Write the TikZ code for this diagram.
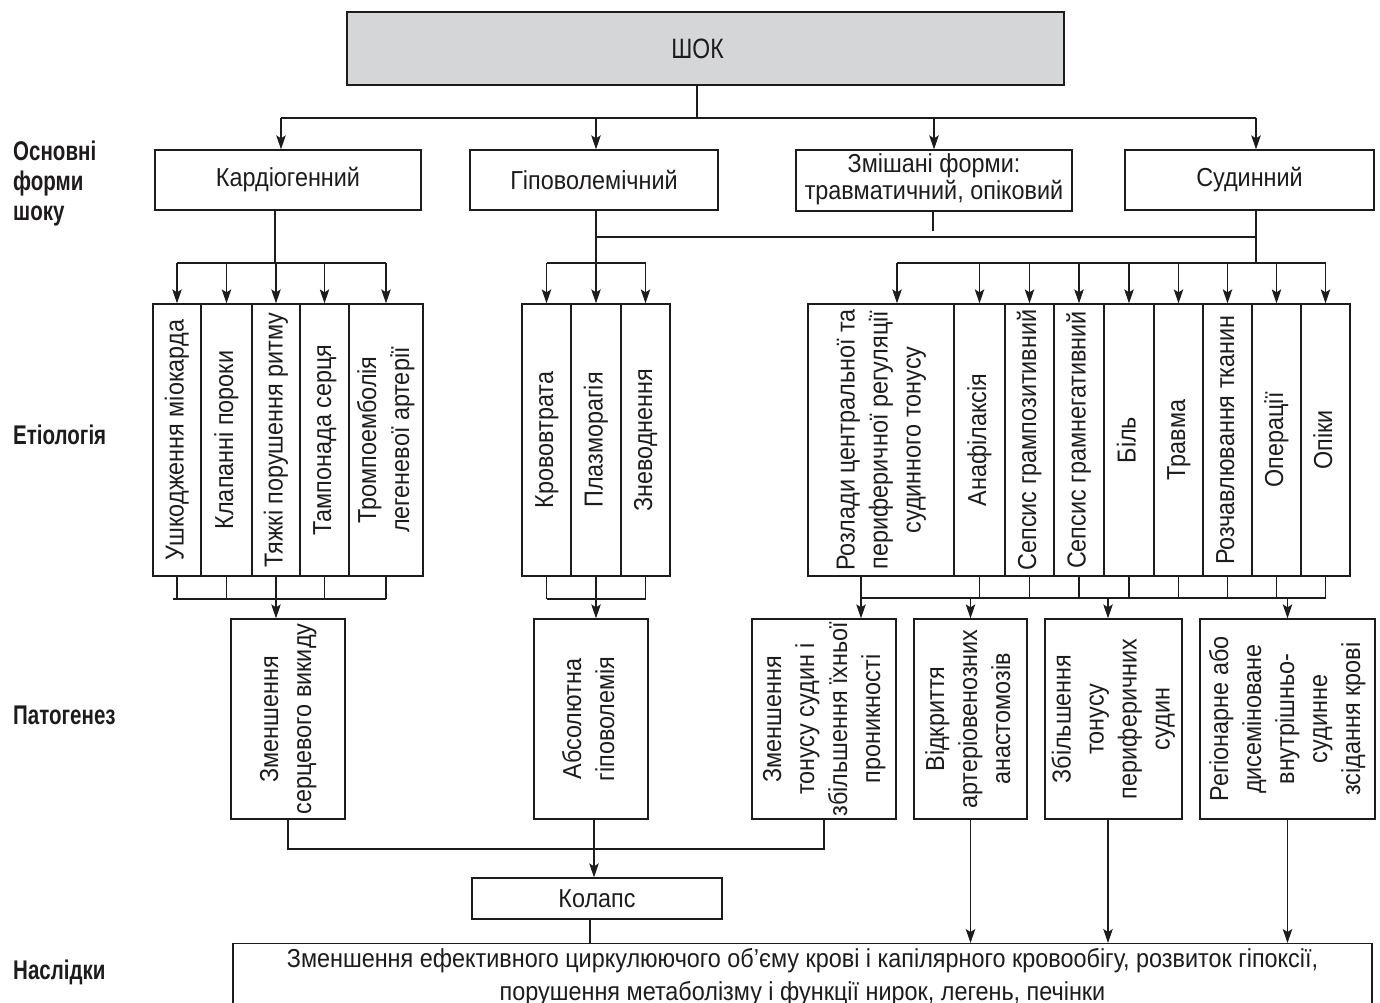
\documentclass[tikz,border=0pt]{standalone}
\usepackage{fontspec}
\usepackage{graphicx}
\setmainfont{Liberation Sans}[FakeStretch=0.9]
\newfontfamily\headfont{Liberation Sans}[FakeStretch=0.82]
\newfontfamily\sidefont{Liberation Sans}[FakeStretch=0.76]
\usetikzlibrary{arrows.meta}
\definecolor{ink}{HTML}{1E1B1C}
\definecolor{shockgray}{HTML}{D5D6D8}
% rotated, centred multi-line text for the tall boxes
\newcommand\vtext[1]{\rotatebox{90}{\begin{tabular}{@{}c@{}}#1\end{tabular}}}

\begin{document}
\begin{tikzpicture}[x=1pt, y=-1pt,
  font=\fontsize{26}{33}\selectfont, text=ink,
  box/.style={draw=ink, line width=1.3pt, rectangle, inner sep=0pt, text=ink},
  ln/.style={draw=ink, line width=1.2pt},
  arr/.style={ln, -{Stealth[length=14pt, width=9.5pt, inset=3pt]}},
  side/.style={font=\sidefont\bfseries\fontsize{27}{30}\selectfont, align=left, inner sep=0pt},
  ebox/.style={box, minimum height=272},
  pbox/.style={box, minimum height=200}]

\useasboundingbox (0,0) rectangle (1380,1002);

% side headings
\node[side, anchor=north west] (lforms) at (13,139) {\rule{0pt}{21pt}Основні\\форми\\шоку};
\node[side, anchor=base west] (lets) at (13,444) {Етіологія};
\node[side, anchor=base west] (lpat) at (13,724) {Патогенез};
\node[side, anchor=base west] (lres) at (13,979) {Наслідки};

% top and the forms of shock
\node[box, fill=shockgray, minimum width=717, minimum height=73,
      font=\headfont\fontsize{28}{30}\selectfont] (shock) at (705.5,48.5) {\hspace*{-16pt}ШОК};
\node[box, minimum width=266, minimum height=60] (kard) at (288,180) {Кардіогенний};
\node[box, minimum width=248, minimum height=60] (hypo) at (594,180) {Гіповолемічний};
\node[box, minimum width=276, minimum height=61,
      font=\fontsize{26}{27}\selectfont] (mixed) at (934,180.5)
  {\raisebox{-3pt}{\begin{tabular}{@{}c@{}}Змішані форми:\\травматичний, опіковий\end{tabular}}};
\node[box, minimum width=249, minimum height=60] (vasc) at (1249.5,180) {Судинний};

% aetiology: cardiogenic
\node[ebox, minimum width=48] (e1) at (177,440) {\vtext{Ушкодження міокарда}};
\node[ebox, minimum width=51] (e2) at (226.5,440) {\vtext{Клапанні пороки}};
\node[ebox, minimum width=48] (e3) at (276,440) {\vtext{Тяжкі порушення ритму}};
\node[ebox, minimum width=49] (e4) at (324.5,440) {\vtext{Тампонада серця}};
\node[ebox, minimum width=74] (e5) at (386,440) {\vtext{Тромпоемболія\\легеневої артерії}};

% aetiology: hypovolemic
\node[ebox, minimum width=49] (h1) at (546.5,440) {\vtext{Крововтрата}};
\node[ebox, minimum width=50] (h2) at (596,440) {\vtext{Плазморагія}};
\node[ebox, minimum width=49] (h3) at (645.5,440) {\vtext{Зневоднення}};

% aetiology: vascular
\node[ebox, minimum width=146] (v1) at (881,440) {\vtext{Розлади центральної та\\периферичної регуляції\\судинного тонусу}};
\node[ebox, minimum width=51] (v2) at (979.5,440) {\vtext{Анафілаксія}};
\node[ebox, minimum width=49] (v3) at (1029.5,440) {\vtext{Сепсис грампозитивний}};
\node[ebox, minimum width=50] (v4) at (1079,440) {\vtext{Сепсис грамнегативний}};
\node[ebox, minimum width=50] (v5) at (1129,440) {\vtext{Біль}};
\node[ebox, minimum width=49] (v6) at (1178.5,440) {\vtext{Травма}};
\node[ebox, minimum width=49] (v7) at (1227.5,440) {\vtext{Розчавлювання тканин}};
\node[ebox, minimum width=49] (v8) at (1276.5,440) {\vtext{Операції}};
\node[ebox, minimum width=49] (v9) at (1325.5,440) {\vtext{Опіки}};

% pathogenesis
\node[pbox, minimum width=114] (p1) at (288,719) {\vtext{Зменшення\\серцевого викиду}};
\node[pbox, minimum width=114] (p2) at (591,719) {\vtext{Абсолютна\\гіповолемія}};
\node[pbox, minimum width=144] (p3) at (824,719) {\vtext{Зменшення\\тонусу судин і\\збільшення їхньої\\проникності}};
\node[pbox, minimum width=113] (p4) at (970.5,719) {\vtext{Відкриття\\артеріовенозних\\анастомозів}};
\node[pbox, minimum width=137] (p5) at (1113.5,719) {\vtext{Збільшення\\тонусу\\периферичних\\судин}};
\node[pbox, minimum width=175] (p6) at (1287.5,719) {\vtext{Регіонарне або\\дисеміноване\\внутрішньо-\\судинне\\зсідання крові}};

% consequences
\node[box, minimum width=250, minimum height=41] (coll) at (597,898.5) {Колапс};
\node[box, minimum width=1139, anchor=north, align=center, inner ysep=5pt] (res) at (802.5,943)
  {\rule{0pt}{19pt}Зменшення ефективного циркулюючого об’єму крові і капілярного кровообігу, розвиток гіпоксії,\\
   порушення метаболізму і функції нирок, легень, печінки};

% ---- connectors ----
% shock -> forms
\coordinate (top) at (697,118);
\coordinate (tL) at (281,118);
\coordinate (t2) at (596,118);
\coordinate (tR) at (1256,118);
\draw[ln] (top |- shock.south) -- (top);
\draw[ln] (tL) -- (tR);
\draw[arr] (tL) -- (tL |- kard.north);
\draw[arr] (t2) -- (t2 |- hypo.north);
\draw[arr] (mixed.north |- tL) -- (mixed.north);
\draw[arr] (tR) -- (tR |- vasc.north);

% cardiogenic -> causes
\coordinate (kd) at (275,263);
\draw[ln] (kd |- kard.south) -- (kd);
\draw[ln] (e1.north |- kd) -- (e5.north |- kd);
\foreach \n in {e1,e2,e3,e4,e5} \draw[arr] (\n.north |- kd) -- (\n.north);

% hypovolemic -> causes
\coordinate (hd) at (596,263);
\draw[ln] (hd |- hypo.south) -- (hd);
\draw[ln] (h1.north |- hd) -- (h3.north |- hd);
\foreach \n in {h1,h2,h3} \draw[arr] (\n.north |- hd) -- (\n.north);

% link between hypovolemic and vascular branches, mixed forms stub
\coordinate (mid) at (596,237);
\draw[ln] (mid) -- (mid -| tR);
\coordinate (ms) at (933,231);
\draw[ln] (ms |- mixed.south) -- (ms);

% vascular -> causes
\coordinate (vd) at (1256,263);
\coordinate (v1in) at (897,263);
\draw[ln] (vd |- vasc.south) -- (vd);
\draw[ln] (v1in) -- (v9.north |- vd);
\draw[arr] (v1in) -- (v1in |- v1.north);
\foreach \n in {v2,v3,v4,v5,v6,v7,v8,v9} \draw[arr] (\n.north |- vd) -- (\n.north);

% causes -> pathogenesis
\coordinate (kb) at (173,599);
\draw[ln] (kb) -- (e5.south |- kb);
\foreach \n in {e1,e2,e3,e4,e5} \draw[ln] (\n.south) -- (\n.south |- kb);
\draw[arr] (e3.south |- kb) -- (e3.south |- p1.north);

\coordinate (hb) at (546.5,599);
\draw[ln] (h1.south |- hb) -- (h3.south |- hb);
\foreach \n in {h1,h2,h3} \draw[ln] (\n.south) -- (\n.south |- hb);
\draw[arr] (h2.south |- hb) -- (h2.south |- p2.north);

\coordinate (vb) at (861,598);
\coordinate (a5) at (1108,598);
\draw[ln] (vb |- v1.south) -- (vb);
\draw[ln] (vb) -- (v9.south |- vb);
\foreach \n in {v2,v3,v4,v5,v6,v7,v8,v9} \draw[ln] (\n.south) -- (\n.south |- vb);
\draw[arr] (vb) -- (vb |- p3.north);
\draw[arr] (p4.north |- vb) -- (p4.north);
\draw[arr] (a5) -- (a5 |- p5.north);
\draw[arr] (p6.north |- vb) -- (p6.north);

% pathogenesis -> collapse
\coordinate (cj) at (594,849);
\draw[ln] (p1.south) |- (cj);
\draw[ln] (cj) -| (p3.south);
\draw[ln] (cj |- p2.south) -- (cj);
\draw[arr] (cj) -- (cj |- coll.north);

% collapse and remaining mechanisms -> consequences
\coordinate (cr) at (590,943);
\draw[ln] (cr |- coll.south) -- (cr);
\draw[arr] (p4.south) -- (p4.south |- res.north);
\draw[arr] (a5 |- p5.south) -- (a5 |- res.north);
\draw[arr] (p6.south) -- (p6.south |- res.north);
\end{tikzpicture}
\end{document}
